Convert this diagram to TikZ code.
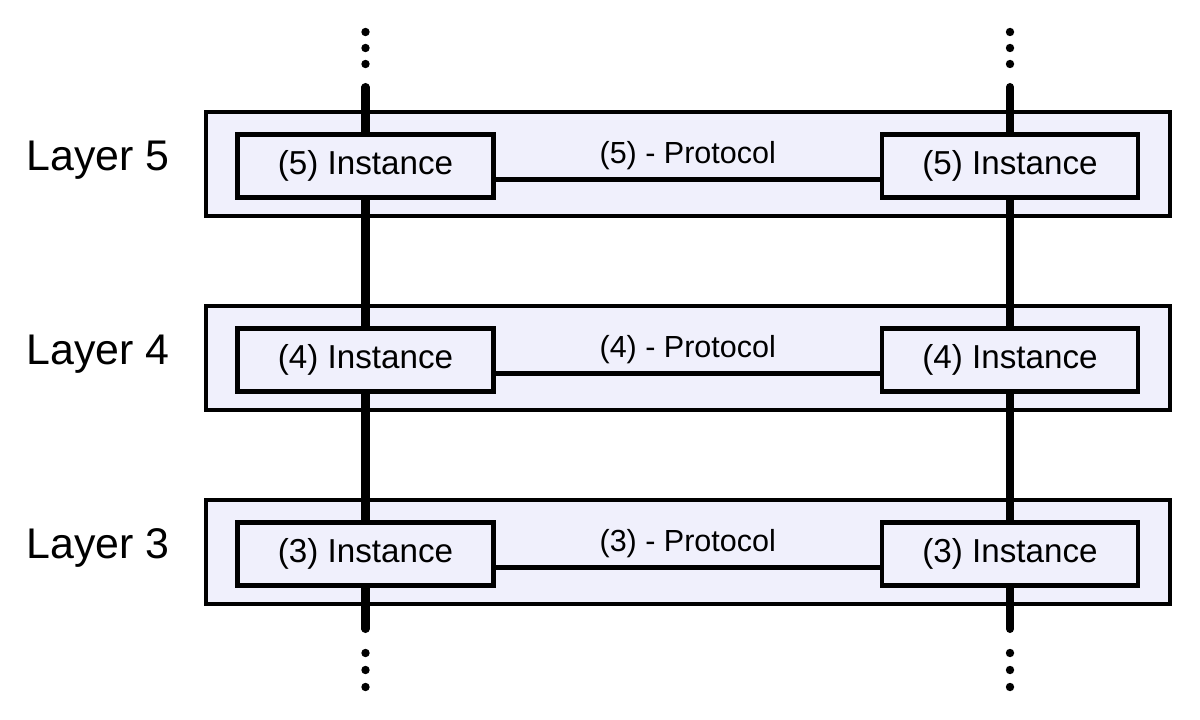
\documentclass[tikz,border=0pt]{standalone}
\usepackage{fontspec}
\newfontfamily\diagfont{Liberation Sans}
\usepackage{tikz}
\usetikzlibrary{positioning}
\definecolor{layerfill}{RGB}{240,240,252}
\tikzset{layerbox/.style={draw,fill=layerfill,line width=2.8pt,minimum width=24.1cm,minimum height=2.6cm},
    instbox/.style={draw,fill=layerfill,line width=3.5pt,minimum width=6.4cm,minimum height=1.575cm,font=\diagfont\fontsize{23.6}{28}\selectfont},
    layerlabel/.style={font=\diagfont\fontsize{30.5}{36}\selectfont},
    protolabel/.style={font=\diagfont\fontsize{21.7}{26}\selectfont},
    stackline/.style={line width=5.7pt,line cap=round},
    protoline/.style={line width=3.3pt},
    smalldot/.style={circle,fill,inner sep=0,minimum size=0.21cm}
}
\begin{document}
\begin{tikzpicture}
\useasboundingbox (0,0) rectangle (30,17.975);

% layers
\foreach \n/\y in {5/13.875,4/9.025,3/4.175}
{
    \node (layer\n) at (17.2,\y) [layerbox] {};
    \node (label\n) at (2.45,\y+0.1) [layerlabel] {Layer \n};
}

% the two stacks
\coordinate (topA) at (9.1375,15.8);
\coordinate (botA) at (9.1375,2.25);
\coordinate (topB) at (25.25,15.8);
\coordinate (botB) at (25.25,2.25);

\draw [stackline] (topA) -- (botA);
\draw [stackline] (topB) -- (botB);

\foreach \x/\s in {9.1375/A,25.25/B}
{
    \node (up1\s) at (\x,17.175) [smalldot] {};
    \node (up2\s) at (\x,16.775) [smalldot] {};
    \node (up3\s) at (\x,16.375) [smalldot] {};
    \node (dn1\s) at (\x,1.65) [smalldot] {};
    \node (dn2\s) at (\x,1.225) [smalldot] {};
    \node (dn3\s) at (\x,0.8) [smalldot] {};
}

% instances and protocols
\foreach \n/\y in {5/13.825,4/8.975,3/4.125}
{
    \node (inA\n) at (9.1375,\y) [instbox] {(\n) Instance};
    \node (inB\n) at (25.25,\y) [instbox] {(\n) Instance};
    \draw [protoline] ([yshift=-0.3375cm]inA\n.east) -- ([yshift=-0.3375cm]inB\n.west)
        node (proto\n) [midway,yshift=0.6cm,protolabel] {(\n) - Protocol};
}

\end{tikzpicture}
\end{document}
